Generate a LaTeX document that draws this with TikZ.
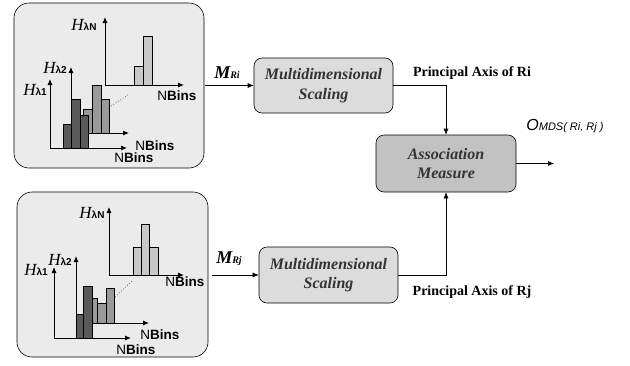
\documentclass[tikz,border=0pt]{standalone}
\usepackage{fontspec}
\setmainfont{Liberation Serif}
\setsansfont{Liberation Sans}
\usetikzlibrary{arrows.meta}
\definecolor{panelfill}{HTML}{EBEBEB}
\definecolor{boxfill}{HTML}{DCDCDC}
\definecolor{assocfill}{HTML}{C2C2C2}
\definecolor{darkbar}{HTML}{5A5A5A}
\definecolor{midbar}{HTML}{9A9A9A}
\definecolor{lightbar}{HTML}{C8C8C8}
\definecolor{boxtext}{HTML}{333333}
\tikzset{
  panel/.style={draw=black, line width=0.6pt, fill=panelfill, rounded corners=15pt, inner sep=0pt},
  procbox/.style={draw=black, line width=0.6pt, fill=boxfill, rounded corners=8pt, align=center,
    font=\fontsize{16}{19.5}\selectfont\bfseries\itshape, text=boxtext, inner sep=0pt},
  assocbox/.style={procbox, fill=assocfill},
  conn/.style={draw=black, line width=0.6pt},
  arr/.style={conn, -{Latex[length=6pt,width=5pt]}},
  axis/.style={draw=black, line width=0.9pt, -{Latex[length=6pt,width=5pt]}},
  bar/.style={draw=black, line width=0.5pt},
  hlabel/.style={inner sep=0pt},
  binlabel/.style={inner sep=0pt, font=\sffamily\fontsize{13.5}{15}\selectfont},
  dots/.style={draw=black!60, line width=0.8pt, dotted},
  bigtext/.style={inner sep=0pt, font=\fontsize{14}{16}\selectfont\bfseries}
}
\newcommand{\Hlab}[1]{{\fontsize{17}{19}\selectfont\itshape H}{\sffamily\bfseries\fontsize{10}{12}\selectfont λ#1}}
\newcommand{\Nbins}{N{\bfseries Bins}}
\begin{document}
\begin{tikzpicture}[x=1pt,y=-1pt]
\useasboundingbox (0,0) rectangle (630,365);

% ---------- top panel ----------
\node[panel, minimum width=190pt, minimum height=165pt] (p1) at (109,85.5) {};
% H lambda N
\filldraw[bar, fill=lightbar] (134,66) rectangle (143,85);
\filldraw[bar, fill=lightbar] (143,36) rectangle (152,85);
\draw[axis] (105,85) -- (105,17);
\draw[axis] (105,85) -- (184,85);
\node[hlabel] (t1hn) at (84,25) {\Hlab{N}};
\node[binlabel] (t1bn) at (177,96) {\Nbins};
% H lambda 2
\filldraw[bar, fill=midbar] (83,109) rectangle (92,133);
\filldraw[bar, fill=midbar] (92,85) rectangle (101,133);
\filldraw[bar, fill=midbar] (101,99) rectangle (109,133);
\draw[axis] (71,133) -- (71,67);
\draw[axis] (71,133) -- (129,133);
\node[hlabel] (t1h2) at (55,68) {\Hlab{2}};
\node[binlabel] (t1b2) at (155,146) {\Nbins};
% H lambda 1
\filldraw[bar, fill=darkbar] (63,124) rectangle (71,148);
\filldraw[bar, fill=darkbar] (71,99) rectangle (80,148);
\filldraw[bar, fill=darkbar] (80,115) rectangle (88,148);
\draw[axis] (50,148) -- (50,79);
\draw[axis] (50,148) -- (127,148);
\node[hlabel] (t1h1) at (35,90) {\Hlab{1}};
\node[binlabel] (t1b1) at (134,158) {\Nbins};
\draw[dots] (111,106) -- (128,95);

% ---------- bottom panel ----------
\node[panel, minimum width=191pt, minimum height=165pt] (p2) at (112.5,274.5) {};
% H lambda N
\filldraw[bar, fill=lightbar] (133,247) rectangle (141,275);
\filldraw[bar, fill=lightbar] (141,224) rectangle (149,275);
\filldraw[bar, fill=lightbar] (149,247) rectangle (158,275);
\draw[axis] (109,275) -- (109,207);
\draw[axis] (109,275) -- (184,275);
\node[hlabel] (t2hn) at (92,213) {\Hlab{N}};
\node[binlabel] (t2bn) at (185,282) {\Nbins};
% H lambda 2
\filldraw[bar, fill=midbar] (92,298) rectangle (97,323);
\filldraw[bar, fill=midbar] (97,303) rectangle (106,323);
\filldraw[bar, fill=midbar] (106,288) rectangle (114,323);
\draw[axis] (76,323) -- (76,256);
\draw[axis] (76,323) -- (149,323);
\node[hlabel] (t2h2) at (60,260) {\Hlab{2}};
\node[binlabel] (t2b2) at (160,335) {\Nbins};
% H lambda 1
\filldraw[bar, fill=darkbar] (76,314) rectangle (83,338);
\filldraw[bar, fill=darkbar] (83,286) rectangle (92,338);
\draw[axis] (54,338) -- (54,267);
\draw[axis] (54,338) -- (131,338);
\node[hlabel] (t2h1) at (36,270) {\Hlab{1}};
\node[binlabel] (t2b1) at (136,350) {\Nbins};
\draw[dots] (115,297) -- (133,280);

% ---------- process boxes ----------
\node[procbox, minimum width=139pt, minimum height=55pt] (mds1) at (323.5,85.5) {Multidimensional\\Scaling};
\node[procbox, minimum width=139pt, minimum height=56pt] (mds2) at (328.5,275) {Multidimensional\\Scaling};
\node[assocbox, minimum width=140pt, minimum height=57pt] (assoc) at (446,163.5) {Association\\Measure};

% ---------- connectors ----------
\coordinate (in1) at (205,85.5);
\coordinate (in2) at (212,275);
\coordinate (out) at (554,163.5);
\draw[arr] (in1) -- (mds1.west);
\draw[arr] (in2) -- (mds2.west);
\draw[arr] (mds1.east) -| (assoc.north);
\draw[arr] (mds2.east) -| (assoc.south);
\draw[arr] (assoc.east) -- (out);

% ---------- labels ----------
\node[inner sep=0pt] (mri) at (227,73) {{\fontsize{18}{20}\selectfont\bfseries\itshape M}{\fontsize{10}{12}\selectfont\bfseries\itshape Ri}};
\node[inner sep=0pt] (mrj) at (229,259) {{\fontsize{18}{20}\selectfont\bfseries\itshape M}{\fontsize{10}{12}\selectfont\bfseries\itshape Rj}};
\node[bigtext] (pa1) at (472,73) {Principal Axis of Ri};
\node[bigtext] (pa2) at (472,292) {Principal Axis of Rj};
\node[inner sep=0pt] (omds) at (565,126) {\sffamily\itshape{\fontsize{16}{18}\selectfont O}{\fontsize{11}{13}\selectfont MDS( Ri, Rj )}};
\end{tikzpicture}
\end{document}
